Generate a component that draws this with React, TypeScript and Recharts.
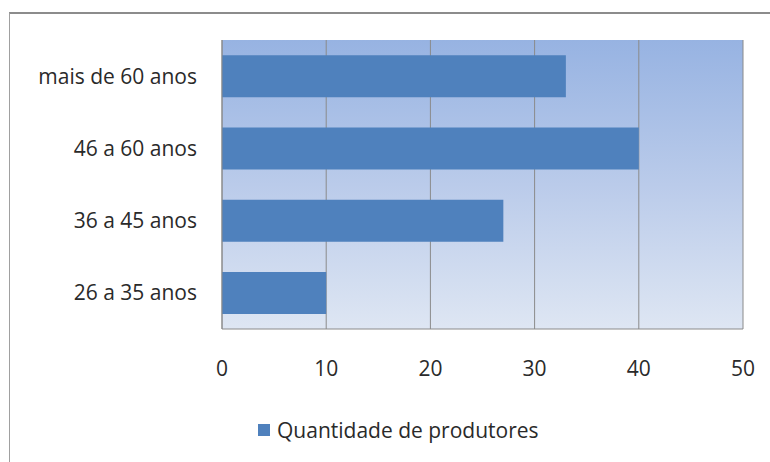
import React from 'react';
import { BarChart, Bar, XAxis, YAxis, CartesianGrid, Legend } from 'recharts';

const categories = ['mais de 60 anos', '46 a 60 anos', '36 a 45 anos', '26 a 35 anos'];
const produtores = [33, 40, 27, 10];
const xTicks = [0, 10, 20, 30, 40, 50];

const data = categories.map((faixa, i) => ({ faixa, produtores: produtores[i] }));

const FONT = '"Open Sans", sans-serif';
const BAR_COLOR = '#4F81BD';
const TEXT_COLOR = '#2a2a2a';

const LegendContent = (props: any) => {
  const items = props.payload || [];
  return (
    <div style={{ display: 'flex', justifyContent: 'flex-start', paddingLeft: 258 }}>
      {items.map((it: any) => (
        <div key={it.value} style={{ display: 'flex', alignItems: 'center', fontFamily: FONT, fontSize: 21, color: TEXT_COLOR }}>
          <span style={{ display: 'inline-block', width: 12, height: 12, background: BAR_COLOR, marginRight: 7 }} />
          <span>{it.value}</span>
        </div>
      ))}
    </div>
  );
};

export default function App() {
  return (
    <div style={{ position: 'absolute', left: 0, top: 0, width: 770, height: 462, overflow: 'hidden', background: '#fff' }}>
      <div
        style={{
          position: 'absolute',
          left: 9,
          top: 12,
          width: 800,
          height: 500,
          borderTop: '2px solid #8c8c8c',
          borderLeft: '1px solid #a0a0a0',
        }}
      />
      <div style={{ position: 'absolute', left: 0, top: 0 }}>
        <BarChart
          width={770}
          height={462}
          data={data}
          layout="vertical"
          margin={{ top: 40, right: 27, left: 22, bottom: 49 }}
          barCategoryGap="21%"
        >
          <defs>
            <linearGradient id="plotBg" x1="0" y1="0" x2="0" y2="1">
              <stop offset="0%" stopColor="#97B3E2" />
              <stop offset="50%" stopColor="#BACBEA" />
              <stop offset="100%" stopColor="#DEE6F3" />
            </linearGradient>
          </defs>
          <CartesianGrid
            horizontal={false}
            vertical={true}
            stroke="#8a8a8a"
            strokeWidth={1}
            fill="url(#plotBg)"
            fillOpacity={1}
          />
          <XAxis
            type="number"
            domain={[0, 50]}
            ticks={xTicks}
            height={60}
            tickLine={false}
            axisLine={{ stroke: '#8a8a8a' }}
            tickMargin={26}
            tick={{ fontFamily: FONT, fontSize: 21, fill: TEXT_COLOR }}
          />
          <YAxis
            type="category"
            dataKey="faixa"
            width={200}
            tickLine={false}
            axisLine={{ stroke: '#8a8a8a' }}
            tickMargin={19}
            tick={{ fontFamily: FONT, fontSize: 21, fill: TEXT_COLOR }}
          />
          <Legend
            verticalAlign="bottom"
            height={24}
            content={<LegendContent />}
            wrapperStyle={{ left: 0, width: 770, bottom: 22 }}
          />
          <Bar dataKey="produtores" name="Quantidade de produtores" fill={BAR_COLOR} isAnimationActive={false} />
        </BarChart>
      </div>
    </div>
  );
}
